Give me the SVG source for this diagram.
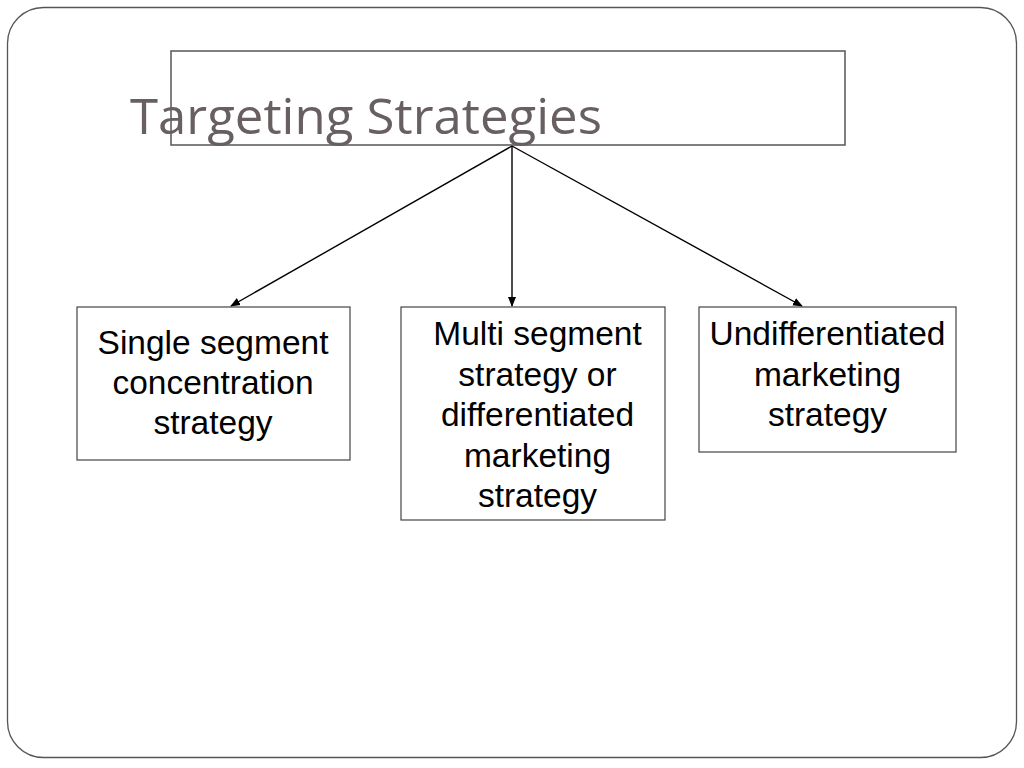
<svg xmlns="http://www.w3.org/2000/svg" width="1024" height="768" viewBox="0 0 1024 768">
<defs>
<style>
.frame{fill:#ffffff;stroke:#555555;stroke-width:1.3}
.box{fill:#ffffff;stroke:#444444;stroke-width:1.2}
.tbox{fill:none;stroke:#555555;stroke-width:1.5}
.lbl{font-family:"Liberation Sans",Arial,sans-serif;font-size:33.5px;fill:#000000;text-anchor:middle}
.title{font-family:"Open Sans","Noto Sans",sans-serif;font-size:50px;fill:#675f60;font-variant-ligatures:none}
.conn{stroke:#000000;stroke-width:1.4;fill:none}
</style>
<marker id="arr" markerWidth="10" markerHeight="10" refX="9" refY="5" orient="auto" markerUnits="userSpaceOnUse">
<path d="M0,1 L10,5 L0,9 Z" fill="#000000"/>
</marker>
</defs>
<rect width="1024" height="768" fill="#ffffff"/>
<rect class="frame" x="7.5" y="7.5" width="1009" height="750" rx="36" ry="36"/>
<g id="title">
<rect class="tbox" x="171" y="51" width="674" height="94"/>
<text class="title" x="130" y="134" textLength="472" lengthAdjust="spacingAndGlyphs">Targeting Strategies</text>
</g>
<g id="connectors">
<line class="conn" x1="512" y1="146" x2="231" y2="306" marker-end="url(#arr)"/>
<line class="conn" x1="512" y1="146" x2="512" y2="306" marker-end="url(#arr)"/>
<line class="conn" x1="512" y1="146" x2="802" y2="306" marker-end="url(#arr)"/>
</g>
<g id="node-single">
<rect class="box" x="77" y="307" width="273" height="153"/>
<text class="lbl" x="213" y="354">Single segment</text>
<text class="lbl" x="213" y="394">concentration</text>
<text class="lbl" x="213" y="434">strategy</text>
</g>
<g id="node-multi">
<rect class="box" x="401" y="307" width="264" height="213"/>
<text class="lbl" x="537.5" y="345">Multi segment</text>
<text class="lbl" x="537.5" y="386">strategy or</text>
<text class="lbl" x="537.5" y="426">differentiated</text>
<text class="lbl" x="537.5" y="467">marketing</text>
<text class="lbl" x="537.5" y="507">strategy</text>
</g>
<g id="node-undiff">
<rect class="box" x="699" y="307" width="257" height="145"/>
<text class="lbl" x="827.5" y="345">Undifferentiated</text>
<text class="lbl" x="827.5" y="386">marketing</text>
<text class="lbl" x="827.5" y="426">strategy</text>
</g>
</svg>
